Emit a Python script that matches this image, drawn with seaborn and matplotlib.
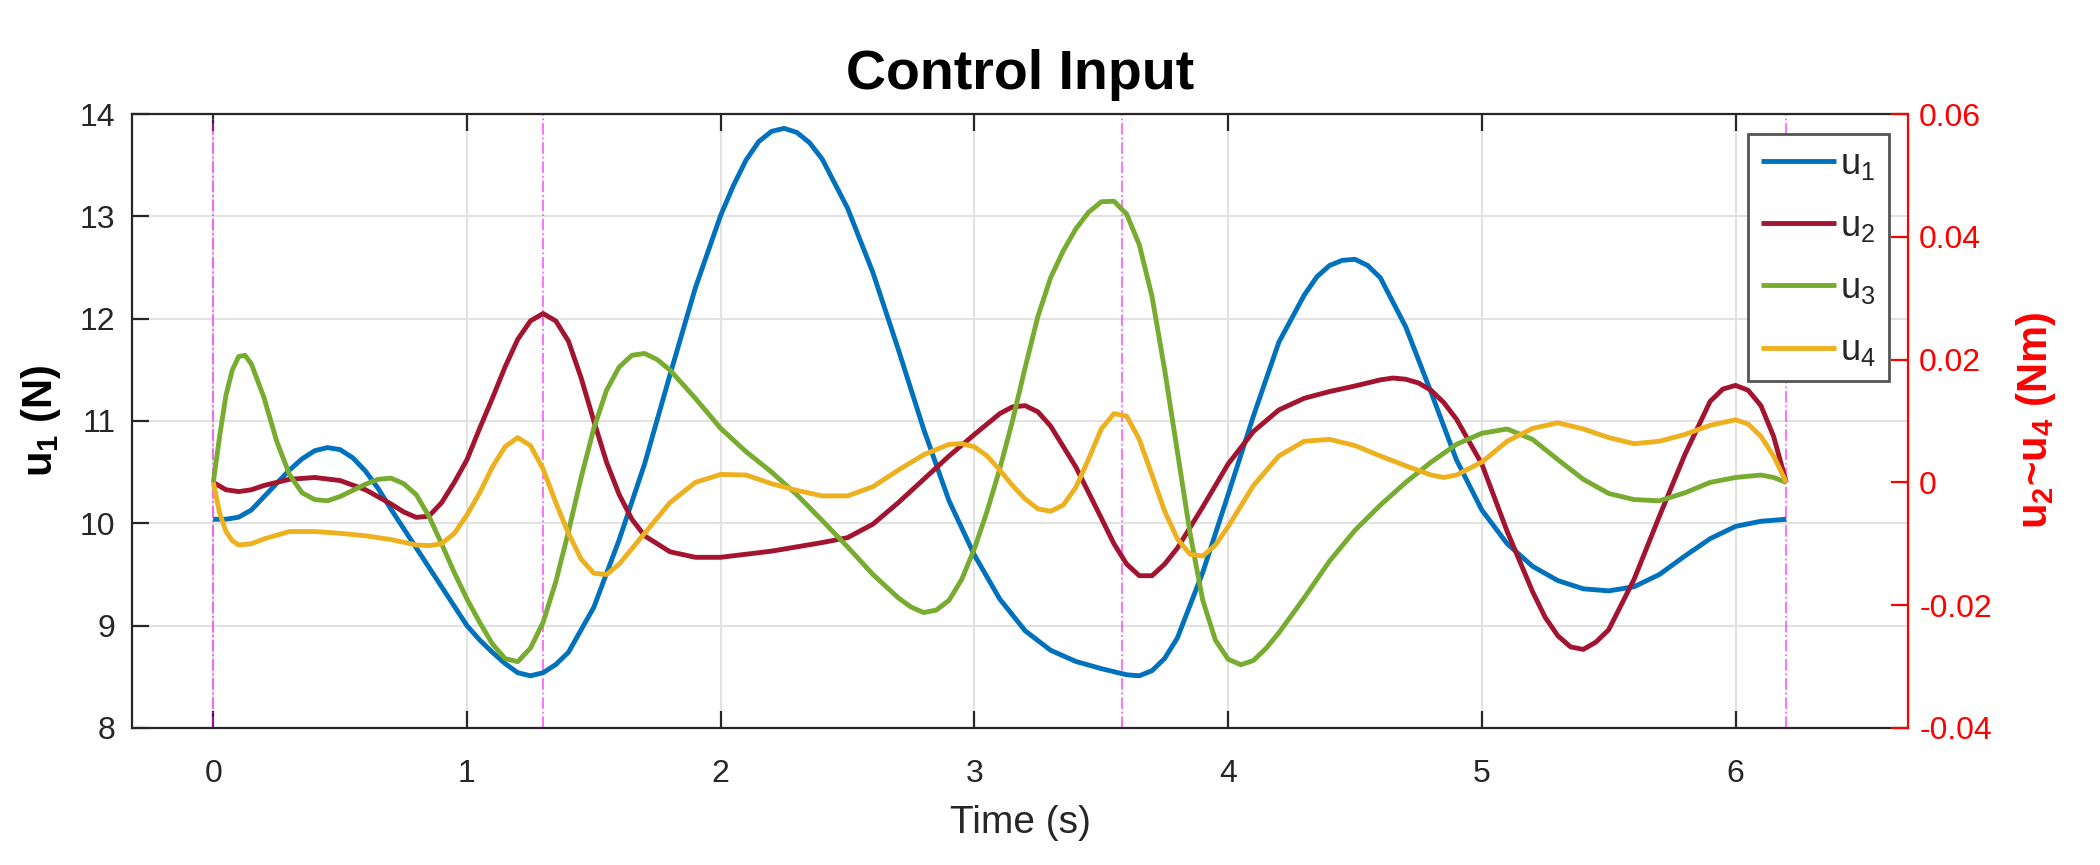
import numpy as np
import pandas as pd
import matplotlib
matplotlib.use('Agg')
import matplotlib.pyplot as plt
from matplotlib.ticker import FixedLocator
import seaborn as sns

# ---- data ----
# u1 (N) on the left axis
t_u1 = [0, 0.05, 0.1, 0.15, 0.2, 0.25, 0.3, 0.35, 0.4, 0.45, 0.5, 0.55, 0.6, 0.65, 0.7,
        0.8, 0.9, 1.0, 1.05, 1.1, 1.15, 1.2, 1.25, 1.3, 1.35, 1.4, 1.5, 1.6, 1.7, 1.8,
        1.9, 2.0, 2.05, 2.1, 2.15, 2.2, 2.25, 2.3, 2.35, 2.4, 2.5, 2.6, 2.7, 2.8, 2.9,
        3.0, 3.1, 3.2, 3.3, 3.4, 3.5, 3.6, 3.65, 3.7, 3.75, 3.8, 3.9, 4.0, 4.1, 4.2,
        4.3, 4.35, 4.4, 4.45, 4.5, 4.55, 4.6, 4.7, 4.8, 4.9, 5.0, 5.1, 5.2, 5.3, 5.4,
        5.5, 5.6, 5.7, 5.8, 5.9, 6.0, 6.1, 6.2]
u1 = [10.04, 10.04, 10.06, 10.13, 10.26, 10.39, 10.52, 10.63, 10.71, 10.74, 10.72,
      10.64, 10.51, 10.34, 10.14, 9.76, 9.38, 9.0, 8.86, 8.74, 8.63, 8.54, 8.51, 8.54,
      8.62, 8.74, 9.18, 9.84, 10.58, 11.45, 12.3, 13.01, 13.3, 13.55, 13.73, 13.83,
      13.86, 13.82, 13.72, 13.56, 13.08, 12.45, 11.7, 10.92, 10.22, 9.69, 9.26, 8.95,
      8.76, 8.65, 8.58, 8.52, 8.51, 8.56, 8.68, 8.88, 9.52, 10.28, 11.05, 11.77, 12.23,
      12.41, 12.52, 12.57, 12.58, 12.52, 12.4, 11.92, 11.28, 10.62, 10.13, 9.8, 9.58,
      9.44, 9.36, 9.34, 9.38, 9.5, 9.68, 9.85, 9.97, 10.02, 10.04]

# u2..u4 (Nm) on the right axis
t_u2 = [0, 0.05, 0.1, 0.15, 0.2, 0.3, 0.4, 0.5, 0.6, 0.7, 0.75, 0.8, 0.85, 0.9, 0.95,
        1.0, 1.05, 1.1, 1.15, 1.2, 1.25, 1.3, 1.35, 1.4, 1.45, 1.5, 1.55, 1.6, 1.65,
        1.7, 1.8, 1.9, 2.0, 2.2, 2.4, 2.5, 2.6, 2.7, 2.8, 2.9, 3.0, 3.1, 3.15, 3.2,
        3.25, 3.3, 3.4, 3.5, 3.55, 3.6, 3.65, 3.7, 3.75, 3.8, 3.9, 4.0, 4.1, 4.2, 4.3,
        4.4, 4.5, 4.6, 4.65, 4.7, 4.75, 4.8, 4.85, 4.9, 5.0, 5.1, 5.2, 5.25, 5.3, 5.35,
        5.4, 5.45, 5.5, 5.6, 5.7, 5.8, 5.9, 5.95, 6.0, 6.05, 6.1, 6.15, 6.2]
u2 = [0.0, -0.0012, -0.0015, -0.0012, -0.0005, 0.0005, 0.0008, 0.0003, -0.0012, -0.0035,
      -0.0048, -0.0057, -0.0055, -0.0033, 0.0, 0.0037, 0.0088, 0.0137, 0.0188, 0.0233,
      0.0263, 0.0275, 0.0263, 0.023, 0.017, 0.01, 0.0033, -0.002, -0.006, -0.0087,
      -0.0113, -0.0122, -0.0122, -0.0112, -0.0098, -0.009, -0.0068, -0.0033, 0.0005,
      0.0043, 0.0078, 0.0112, 0.0123, 0.0125, 0.0115, 0.0092, 0.0025, -0.0058, -0.01,
      -0.0133, -0.0152, -0.0152, -0.0133, -0.0107, -0.004, 0.003, 0.0083, 0.0118, 0.0137,
      0.0148, 0.0157, 0.0167, 0.017, 0.0168, 0.0162, 0.015, 0.013, 0.0103, 0.003, -0.008,
      -0.0178, -0.022, -0.025, -0.0268, -0.0272, -0.026, -0.024, -0.0158, -0.0055, 0.0045,
      0.0132, 0.0152, 0.0158, 0.015, 0.0125, 0.0075, 0.0]

t_u3 = [0, 0.025, 0.05, 0.075, 0.1, 0.125, 0.15, 0.2, 0.25, 0.3, 0.35, 0.4, 0.45, 0.5,
        0.55, 0.6, 0.65, 0.7, 0.75, 0.8, 0.85, 0.9, 0.95, 1.0, 1.05, 1.1, 1.15, 1.2,
        1.25, 1.3, 1.35, 1.4, 1.45, 1.5, 1.55, 1.6, 1.65, 1.7, 1.75, 1.8, 1.9, 2.0, 2.1,
        2.2, 2.3, 2.4, 2.5, 2.6, 2.7, 2.75, 2.8, 2.85, 2.9, 2.95, 3.0, 3.05, 3.1, 3.15,
        3.2, 3.25, 3.3, 3.35, 3.4, 3.45, 3.5, 3.55, 3.6, 3.65, 3.7, 3.75, 3.8, 3.85, 3.9,
        3.95, 4.0, 4.05, 4.1, 4.15, 4.2, 4.3, 4.4, 4.5, 4.6, 4.7, 4.8, 4.9, 5.0, 5.1,
        5.2, 5.3, 5.4, 5.5, 5.6, 5.7, 5.8, 5.9, 6.0, 6.1, 6.15, 6.2]
u3 = [0.0, 0.0075, 0.0142, 0.0183, 0.0205, 0.0207, 0.0193, 0.0138, 0.0067, 0.0013,
      -0.0017, -0.0028, -0.003, -0.0023, -0.0013, -0.0003, 0.0005, 0.0007, -0.0002,
      -0.002, -0.0055, -0.01, -0.0147, -0.019, -0.0228, -0.0263, -0.0287, -0.0292,
      -0.027, -0.0228, -0.0162, -0.008, 0.0008, 0.0088, 0.015, 0.0188, 0.0207, 0.021,
      0.02, 0.0183, 0.0137, 0.0088, 0.005, 0.0017, -0.002, -0.0062, -0.0105, -0.015,
      -0.0188, -0.0203, -0.0212, -0.0208, -0.0192, -0.0158, -0.0108, -0.0047, 0.0022,
      0.01, 0.0187, 0.027, 0.0333, 0.0377, 0.0413, 0.044, 0.0457, 0.0458, 0.0437, 0.0387,
      0.0303, 0.0183, 0.005, -0.0083, -0.0192, -0.0257, -0.0288, -0.0297, -0.029, -0.027,
      -0.0245, -0.0188, -0.0128, -0.0078, -0.0037, 0.0, 0.0033, 0.0062, 0.008, 0.0087,
      0.007, 0.0037, 0.0005, -0.0018, -0.0028, -0.003, -0.0017, 0.0, 0.0008, 0.0012,
      0.0008, 0.0]

t_u4 = [0, 0.025, 0.05, 0.075, 0.1, 0.15, 0.2, 0.3, 0.4, 0.5, 0.6, 0.7, 0.8, 0.85, 0.9,
        0.95, 1.0, 1.05, 1.1, 1.15, 1.2, 1.25, 1.3, 1.35, 1.4, 1.45, 1.5, 1.55, 1.6, 1.7,
        1.8, 1.9, 2.0, 2.1, 2.2, 2.3, 2.4, 2.5, 2.6, 2.7, 2.8, 2.9, 2.95, 3.0, 3.05, 3.1,
        3.15, 3.2, 3.25, 3.3, 3.35, 3.4, 3.45, 3.5, 3.55, 3.6, 3.65, 3.7, 3.75, 3.8,
        3.85, 3.9, 3.95, 4.0, 4.1, 4.2, 4.3, 4.4, 4.5, 4.6, 4.7, 4.8, 4.85, 4.9, 5.0,
        5.1, 5.2, 5.3, 5.4, 5.5, 5.6, 5.7, 5.8, 5.9, 6.0, 6.05, 6.1, 6.15, 6.2]
u4 = [0.0, -0.005, -0.008, -0.0095, -0.0102, -0.01, -0.0092, -0.008, -0.008, -0.0083,
      -0.0087, -0.0093, -0.0102, -0.0103, -0.01, -0.0083, -0.0053, -0.0017, 0.0025,
      0.0058, 0.0073, 0.006, 0.0022, -0.0033, -0.0083, -0.0125, -0.0148, -0.015, -0.0133,
      -0.0083, -0.0033, 0.0, 0.0013, 0.0012, -0.0002, -0.0013, -0.0022, -0.0022, -0.0007,
      0.002, 0.0045, 0.0062, 0.0063, 0.0058, 0.0043, 0.002, -0.0005, -0.0027, -0.0043,
      -0.0047, -0.0037, -0.0008, 0.0038, 0.0087, 0.0112, 0.0108, 0.007, 0.0012, -0.0047,
      -0.0092, -0.0117, -0.012, -0.0102, -0.0072, -0.0005, 0.0043, 0.0067, 0.007, 0.006,
      0.0043, 0.0027, 0.0012, 0.0008, 0.0012, 0.0033, 0.0067, 0.0088, 0.0097, 0.0087,
      0.0073, 0.0063, 0.0067, 0.0078, 0.0093, 0.0102, 0.0095, 0.0075, 0.0043, 0.0]

event_times = [0, 1.3, 3.58, 6.2]   # dash-dot markers
x_ticks = [0, 1, 2, 3, 4, 5, 6]
left_ticks = [8, 9, 10, 11, 12, 13, 14]
right_ticks = [-0.04, -0.02, 0, 0.02, 0.04, 0.06]
right_labels = ['-0.04', '-0.02', '0', '0.02', '0.04', '0.06']

colors = {'u1': '#0072BD', 'u2': '#A2142F', 'u3': '#77AC30', 'u4': '#EDB120'}
labels = {'u1': r'$\mathregular{u_1}$', 'u2': r'$\mathregular{u_2}$',
          'u3': r'$\mathregular{u_3}$', 'u4': r'$\mathregular{u_4}$'}

################ Plot ########################
sns.set_theme(style='white')
plt.rcParams['font.family'] = ['Liberation Sans', 'DejaVu Sans']
plt.rcParams['mathtext.fontset'] = 'custom'
plt.rcParams['mathtext.rm'] = 'Liberation Sans'

axis_col = '#262626'
fig = plt.figure(figsize=(21, 8.65), dpi=100)
ax = fig.add_axes([0.0629, 0.1584, 0.8457, 0.7098])
ax2 = ax.twinx()

lw = 3.5
sns.lineplot(x=t_u1, y=u1, ax=ax, color=colors['u1'], linewidth=lw,
             label=labels['u1'], sort=False, estimator=None)
for key, t, v in [('u2', t_u2, u2), ('u3', t_u3, u3), ('u4', t_u4, u4)]:
    sns.lineplot(x=t, y=v, ax=ax2, color=colors[key], linewidth=lw,
                 label=labels[key], sort=False, estimator=None)
for line in ax.lines + ax2.lines:
    line.set_solid_joinstyle('round')
    line.set_solid_capstyle('butt')

for te in event_times:
    ax.axvline(te, color='#ff00ff', alpha=0.6, linewidth=1.3, linestyle='-.', zorder=1)

# axes limits / ticks
ax.set_xlim(-0.32, 6.68)
ax.set_ylim(8, 14)
ax2.set_ylim(-0.04, 0.06)
ax.xaxis.set_major_locator(FixedLocator(x_ticks))
ax.yaxis.set_major_locator(FixedLocator(left_ticks))
ax2.yaxis.set_major_locator(FixedLocator(right_ticks))
ax2.set_yticklabels(right_labels)

ax.grid(True, color='#e2e2e2', linewidth=1.5)
ax.set_axisbelow(True)

ax.tick_params(axis='x', direction='in', top=True, bottom=True, length=12, width=1.6,
               color=axis_col, labelsize=23, pad=22, labelcolor=axis_col)
ax.tick_params(axis='y', direction='in', left=True, right=False, length=12, width=1.6,
               color=axis_col, labelsize=23, pad=12, labelcolor=axis_col)
ax2.tick_params(axis='y', direction='in', right=True, length=12, width=1.6,
                color='red', labelsize=23, pad=8, labelcolor='red')

for s in ['left', 'bottom', 'top']:
    ax.spines[s].set_color(axis_col)
    ax.spines[s].set_linewidth(1.6)
    ax2.spines[s].set_visible(False)
ax.spines['right'].set_visible(False)
ax2.spines['right'].set_color('red')
ax2.spines['right'].set_linewidth(1.6)

ax.set_xlabel('Time (s)', fontsize=28, color=axis_col, labelpad=12)
ax.set_ylabel(r'$\mathregular{u_1}$ (N)', fontsize=30, fontweight='bold', color='black', labelpad=12)
ax2.set_ylabel(r'$\mathregular{u_2}$~$\mathregular{u_4}$ (Nm)', fontsize=30,
               fontweight='bold', color='red', labelpad=16)
ax.set_title('Control Input', fontsize=40, fontweight='bold', color='black', pad=18)

# combined legend
ax.get_legend().remove()
ax2.get_legend().remove()
handles = ax.get_lines()[:1] + ax2.get_lines()[:3]
leg = ax2.legend(handles, [labels[k] for k in ['u1', 'u2', 'u3', 'u4']],
                 loc='upper right', bbox_to_anchor=(0.989, 0.967), borderaxespad=0,
                 fontsize=26, frameon=True, fancybox=False, framealpha=1,
                 edgecolor='#555555', handlelength=2.1, handletextpad=0.1,
                 labelspacing=0.75, borderpad=0.35)
leg.get_frame().set_linewidth(2)

fig.savefig('out.png', dpi=100)
